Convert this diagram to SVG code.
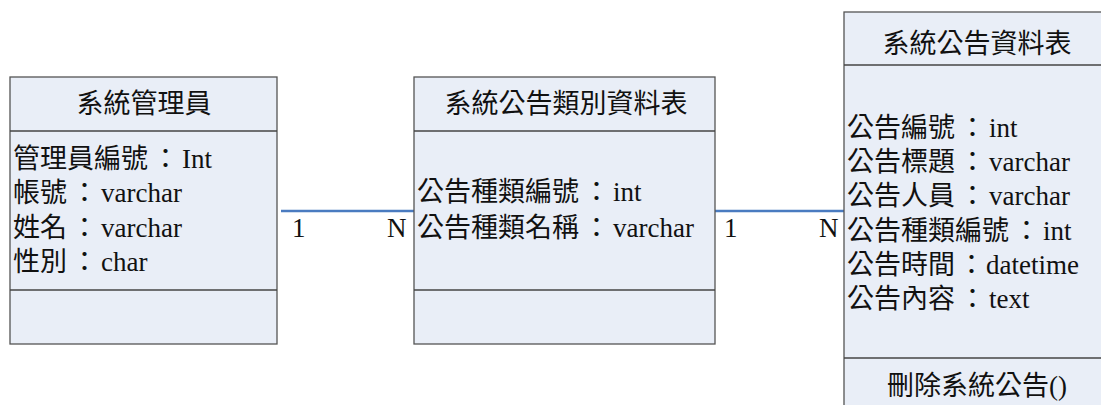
<svg xmlns="http://www.w3.org/2000/svg" width="1101" height="405" viewBox="0 0 1101 405">
<style>
.box{fill:#E9EEF7;stroke:#555555;stroke-width:1.3}
.div{stroke:#444444;stroke-width:1.3}
.t{font-family:"Liberation Serif","Noto Sans CJK TC",serif;font-size:27px;fill:#111}
.h{text-anchor:middle}
.conn{stroke:#4A7BC0;stroke-width:2.5;fill:none}
</style>
<rect width="1101" height="405" fill="#ffffff"/>
<g id="connectors">
<line class="conn" x1="281" y1="211" x2="414" y2="211"/>
<line class="conn" x1="715" y1="211" x2="844" y2="211"/>
<text class="t" x="292" y="237">1</text>
<text class="t" x="387" y="237">N</text>
<text class="t" x="724" y="237">1</text>
<text class="t" x="819" y="237">N</text>
</g>
<g id="admin">
<rect class="box" x="10" y="77" width="267" height="267"/>
<line class="div" x1="10" y1="131" x2="277" y2="131"/>
<line class="div" x1="10" y1="290" x2="277" y2="290"/>
<text class="t h" x="144" y="113">系統管理員</text>
<text class="t" x="13" y="168">管理員編號<tspan dx="4">：</tspan><tspan dx="3">Int</tspan></text>
<text class="t" x="13" y="202">帳號<tspan dx="4">：</tspan><tspan dx="3">varchar</tspan></text>
<text class="t" x="13" y="237">姓名<tspan dx="4">：</tspan><tspan dx="3">varchar</tspan></text>
<text class="t" x="13" y="271">性別<tspan dx="4">：</tspan><tspan dx="3">char</tspan></text>
</g>
<g id="category">
<rect class="box" x="414" y="77" width="301" height="267"/>
<line class="div" x1="414" y1="131" x2="715" y2="131"/>
<line class="div" x1="414" y1="290" x2="715" y2="290"/>
<text class="t h" x="566" y="113">系統公告類別資料表</text>
<text class="t" x="417" y="201">公告種類編號<tspan dx="4">：</tspan><tspan dx="3">int</tspan></text>
<text class="t" x="417" y="237">公告種類名稱<tspan dx="4">：</tspan><tspan dx="3">varchar</tspan></text>
</g>
<g id="announcement">
<rect class="box" x="844" y="12" width="275" height="420"/>
<line class="div" x1="844" y1="65" x2="1119" y2="65"/>
<line class="div" x1="844" y1="358" x2="1119" y2="358"/>
<text class="t h" x="977" y="53">系統公告資料表</text>
<text class="t" x="847" y="137">公告編號<tspan dx="4">：</tspan><tspan dx="3">int</tspan></text>
<text class="t" x="847" y="171">公告標題<tspan dx="4">：</tspan><tspan dx="3">varchar</tspan></text>
<text class="t" x="847" y="205">公告人員<tspan dx="4">：</tspan><tspan dx="3">varchar</tspan></text>
<text class="t" x="847" y="240">公告種類編號<tspan dx="4">：</tspan><tspan dx="3">int</tspan></text>
<text class="t" x="847" y="274">公告時間<tspan dx="3">：</tspan><tspan dx="1">datetime</tspan></text>
<text class="t" x="847" y="308">公告內容<tspan dx="4">：</tspan><tspan dx="3">text</tspan></text>
<text class="t h" x="977" y="395">刪除系統公告()</text>
</g>
</svg>
